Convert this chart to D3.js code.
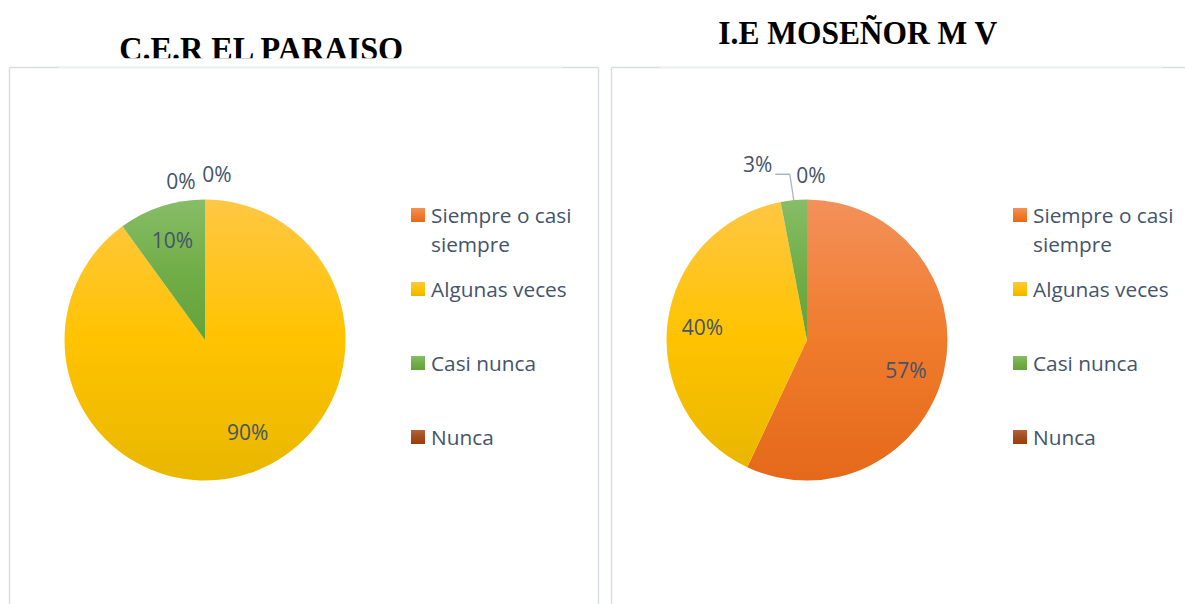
<!DOCTYPE html>
<html>
<head>
<meta charset="utf-8">
<script src="https://cdn.jsdelivr.net/npm/d3@7"></script>
<style>
  html, body { margin: 0; padding: 0; background: #fff; }
  svg { display: block; }
</style>
</head>
<body>
<svg id="chart" width="1185" height="604"></svg>
<script>
// ---- DATA ----
const categories = ["Siempre o casi siempre", "Algunas veces", "Casi nunca", "Nunca"];
const legendLines = [["Siempre o casi", "siempre"], ["Algunas veces"], ["Casi nunca"], ["Nunca"]];
const titles = ["C.E.R EL PARAISO", "I.E MOSEÑOR M V"];
const valuesParaiso = [0, 90, 10, 0];
const valuesMonsenor = [57, 40, 3, 0];

// ---- STYLE ----
const gradColors = [
  ["#F3915A", "#F07B2C", "#E5691A"],
  ["#FFC744", "#FFC300", "#E9B700"],
  ["#87BD67", "#72AE48", "#66A23A"],
  ["#B2643C", "#A44C1C", "#9B3D08"]
];
const textColor = "#44546A";
const borderColor = "#D9DEE5";
const borderLight = "#ECEFF3";
const labelFont = "'Open Sans', sans-serif";

const svg = d3.select("#chart");
const defs = svg.append("defs");
gradColors.forEach((c, i) => {
  const g = defs.append("linearGradient").attr("id", "g" + i)
    .attr("x1", 0).attr("y1", 0).attr("x2", 0).attr("y2", 1);
  g.append("stop").attr("offset", 0).attr("stop-color", c[0]);
  g.append("stop").attr("offset", 0.5).attr("stop-color", c[1]);
  g.append("stop").attr("offset", 1).attr("stop-color", c[2]);
});

// layout per panel (local coordinates, panel translated by ox)
const panels = [
  { ox: 0, values: valuesParaiso, title: titles[0], titleX: 261.2, titleY: 59.5, titleW: 284, clipY: 58.3,
    lightFrom: 59, lightTo: 562, right: 598.5,
    inNudges: { 1: [10, -8] },
    outNudges: { 0: [12, -3], 3: [-24, 4] } },
  { ox: 602, values: valuesMonsenor, title: titles[1], titleX: 255.8, titleY: 44, titleW: 279, clipY: 70,
    lightFrom: 58, lightTo: 560, right: 1200,
    inNudges: { 0: [-4, 7] },
    outNudges: { 2: [-34, -13], 3: [4, -2] } }
];

const pieCx = 205, pieCy = 340, R = 140.5;
const pie = d3.pie().sort(null).value(d => d);
const arc = d3.arc().innerRadius(0).outerRadius(R);
const inLabelArc = d3.arc().innerRadius(R * 0.75).outerRadius(R * 0.75);
const outLabelArc = d3.arc().innerRadius(R + 23).outerRadius(R + 23);
const edgeArc = d3.arc().innerRadius(R).outerRadius(R);

panels.forEach((p, pi) => {
  const g = svg.append("g").attr("transform", `translate(${p.ox},0)`);
  const left = 9.5, top = 67.5;
  const right = p.right - p.ox;

  // frame
  g.append("line").attr("x1", left).attr("y1", top).attr("x2", left).attr("y2", 620)
    .attr("stroke", borderColor).attr("stroke-width", 1.5);
  g.append("line").attr("x1", right).attr("y1", top).attr("x2", right).attr("y2", 620)
    .attr("stroke", borderColor).attr("stroke-width", 1.5);
  g.append("line").attr("x1", left).attr("y1", top).attr("x2", right).attr("y2", top)
    .attr("stroke", borderColor).attr("stroke-width", 1.5);
  g.append("line").attr("x1", p.lightFrom).attr("y1", top).attr("x2", p.lightTo).attr("y2", top)
    .attr("stroke", borderLight).attr("stroke-width", 1.5);

  // title (clipped like the source image)
  const clipId = "tclip" + pi;
  defs.append("clipPath").attr("id", clipId)
    .append("rect").attr("x", 0).attr("y", 0).attr("width", 600).attr("height", p.clipY);
  g.append("text").attr("x", p.titleX).attr("y", p.titleY)
    .attr("text-anchor", "middle")
    .attr("clip-path", `url(#${clipId})`)
    .attr("textLength", p.titleW).attr("lengthAdjust", "spacingAndGlyphs")
    .style("font-family", "'Liberation Serif', 'Times New Roman', serif")
    .style("font-weight", "bold").style("font-size", "33px").attr("fill", "#000")
    .text(p.title);

  // pie
  const arcs = pie(p.values);
  const pg = g.append("g").attr("transform", `translate(${pieCx},${pieCy})`);
  pg.selectAll("path.slice").data(arcs).enter().append("path")
    .attr("class", "slice")
    .attr("d", arc)
    .attr("fill", (d, i) => `url(#g${i})`);

  // labels
  arcs.forEach((d, i) => {
    const frac = (d.endAngle - d.startAngle) / (2 * Math.PI);
    const txt = d.value + "%";
    const inside = frac >= 0.08;
    let x, y;
    if (inside) {
      [x, y] = inLabelArc.centroid(d);
      const n = p.inNudges[i] || [0, 0];
      x += n[0]; y += n[1];
    } else {
      [x, y] = outLabelArc.centroid(d);
      const n = p.outNudges[i] || [0, 0];
      x += n[0]; y += n[1];
    }
    const t = pg.append("text").attr("x", x).attr("y", y)
      .attr("text-anchor", "middle").attr("dominant-baseline", "central")
      .style("font-family", labelFont).style("font-size", "21px")
      .attr("fill", textColor).text(txt);
    if (!inside && d.value > 0) {
      // leader line
      const bb = t.node().getBBox();
      const e = edgeArc.centroid(d);
      const ly = bb.y + bb.height - 4;
      pg.append("path")
        .attr("d", d3.line()([[bb.x + bb.width + 3, ly], [e[0] - 4, ly], [e[0], e[1]]]))
        .attr("fill", "none").attr("stroke", "#A9B6C6").attr("stroke-width", 1.3);
    }
  });

  // legend
  const lg = g.append("g");
  categories.forEach((c, i) => {
    const cy = 215 + i * 74;
    lg.append("rect").attr("x", 411).attr("y", cy - 7).attr("width", 14).attr("height", 14)
      .attr("fill", `url(#g${i})`);
    const t = lg.append("text").attr("x", 431).attr("y", cy + 7.5)
      .style("font-family", labelFont).style("font-size", "20.8px").attr("fill", textColor);
    legendLines[i].forEach((ln, k) => {
      t.append("tspan").attr("x", 431).attr("dy", k === 0 ? 0 : 29).text(ln);
    });
  });
});
</script>
</body>
</html>
